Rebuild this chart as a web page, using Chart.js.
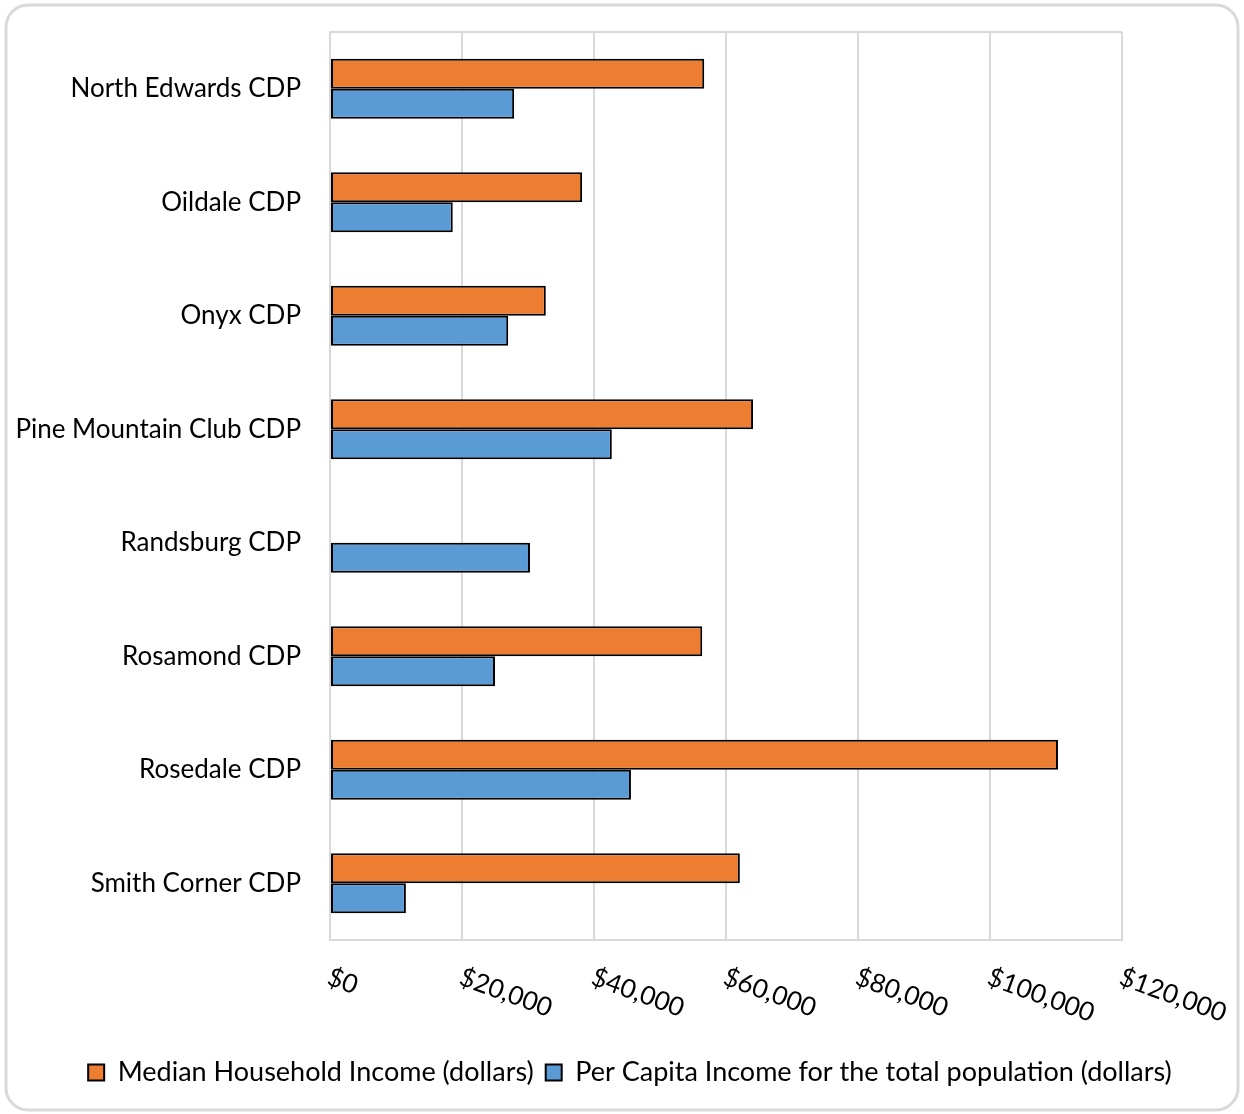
<!DOCTYPE html>
<html>
<head>
<meta charset="utf-8">
<title>Income by CDP</title>
<script src="https://cdn.jsdelivr.net/npm/chart.js@4.4.1/dist/chart.umd.min.js"></script>
<style>
  body { margin: 0; background: #fff; }
  #wrap { width: 1244px; height: 1114px; position: relative; }
</style>
</head>
<body>
<div id="wrap"><canvas id="myChart"></canvas></div>
<script>
// datos
const categories = ['North Edwards CDP', 'Oildale CDP', 'Onyx CDP', 'Pine Mountain Club CDP',
  'Randsburg CDP', 'Rosamond CDP', 'Rosedale CDP', 'Smith Corner CDP'];
const medianIncome = [56700, 38200, 32700, 64100, null, 56400, 110300, 62100];
const perCapitaIncome = [27900, 18600, 27000, 42700, 30300, 25000, 45600, 11500];
const xTickValues = [0, 20000, 40000, 60000, 80000, 100000, 120000];

const FONT = 'Lato, "Open Sans", sans-serif';

// marco redondeado + borde superior del area de trazado
const framePlugin = {
  id: 'frame',
  beforeDraw(chart) {
    const c = chart.ctx;
    c.save();
    c.fillStyle = '#fff';
    c.fillRect(0, 0, chart.width, chart.height);
    c.strokeStyle = '#d9d9d9';
    c.lineWidth = 3;
    c.beginPath();
    c.roundRect(6, 5, chart.width - 12, chart.height - 9, 22);
    c.stroke();
    c.restore();
  },
  afterDatasetsDraw(chart) {
    const a = chart.chartArea;
    const c = chart.ctx;
    c.save();
    c.strokeStyle = '#d9d9d9';
    c.lineWidth = 2;
    c.beginPath();
    c.moveTo(a.left, a.top);
    c.lineTo(a.right, a.top);
    c.stroke();
    c.restore();
  },
  afterDraw(chart) {
    // etiquetas del eje x giradas en sentido horario
    const sx = chart.scales.x;
    const c = chart.ctx;
    c.save();
    c.font = '26px ' + FONT;
    c.fillStyle = '#000';
    c.textAlign = 'left';
    c.textBaseline = 'top';
    xTickValues.forEach(v => {
      const px = sx.getPixelForValue(v);
      c.save();
      c.translate(px + 3, chart.chartArea.bottom + 24);
      c.rotate(20 * Math.PI / 180);
      c.fillText('$' + v.toLocaleString('en-US'), 0, 0);
      c.restore();
    });
    c.restore();
  }
};

const ctx = document.getElementById('myChart').getContext('2d');

let myChart = new Chart(ctx, {
  type: 'bar',
  data: {
    labels: categories,
    datasets: [{
      label: 'Median Household Income (dollars)',
      data: medianIncome,
      backgroundColor: '#ED7D31',
      borderColor: '#000',
      borderWidth: 2,
      borderSkipped: false
    }, {
      label: 'Per Capita Income for the total population (dollars)',
      data: perCapitaIncome,
      backgroundColor: '#5B9BD5',
      borderColor: '#000',
      borderWidth: 2,
      borderSkipped: false
    }]
  },
  options: {
    indexAxis: 'y',
    responsive: true,
    maintainAspectRatio: false,
    animation: false,
    barPercentage: 1,
    categoryPercentage: 0.53,
    layout: {
      padding: { left: 16, right: 0, top: 32, bottom: 18 }
    },
    plugins: {
      tooltip: { enabled: false },
      legend: {
        position: 'bottom',
        labels: {
          color: '#000',
          font: { family: FONT, size: 27 },
          boxWidth: 16,
          boxHeight: 16,
          padding: 12
        }
      }
    },
    scales: {
      x: {
        min: 0,
        max: 120000,
        ticks: { stepSize: 20000, display: false },
        grid: { color: '#d9d9d9', lineWidth: 2, drawTicks: false },
        border: { color: '#d9d9d9', width: 2 },
        afterFit(scale) {
          scale.height = 107;
          scale.paddingLeft = 0;
          scale.paddingRight = 122;
        }
      },
      y: {
        ticks: {
          color: '#000',
          font: { family: FONT, size: 26 },
          padding: 29
        },
        grid: { display: false, drawTicks: false },
        border: { color: '#d9d9d9', width: 2 },
        afterFit(scale) {
          scale.width = 314;
          scale.paddingTop = 0;
          scale.paddingBottom = 0;
        }
      }
    }
  },
  plugins: [framePlugin]
});
</script>
</body>
</html>
